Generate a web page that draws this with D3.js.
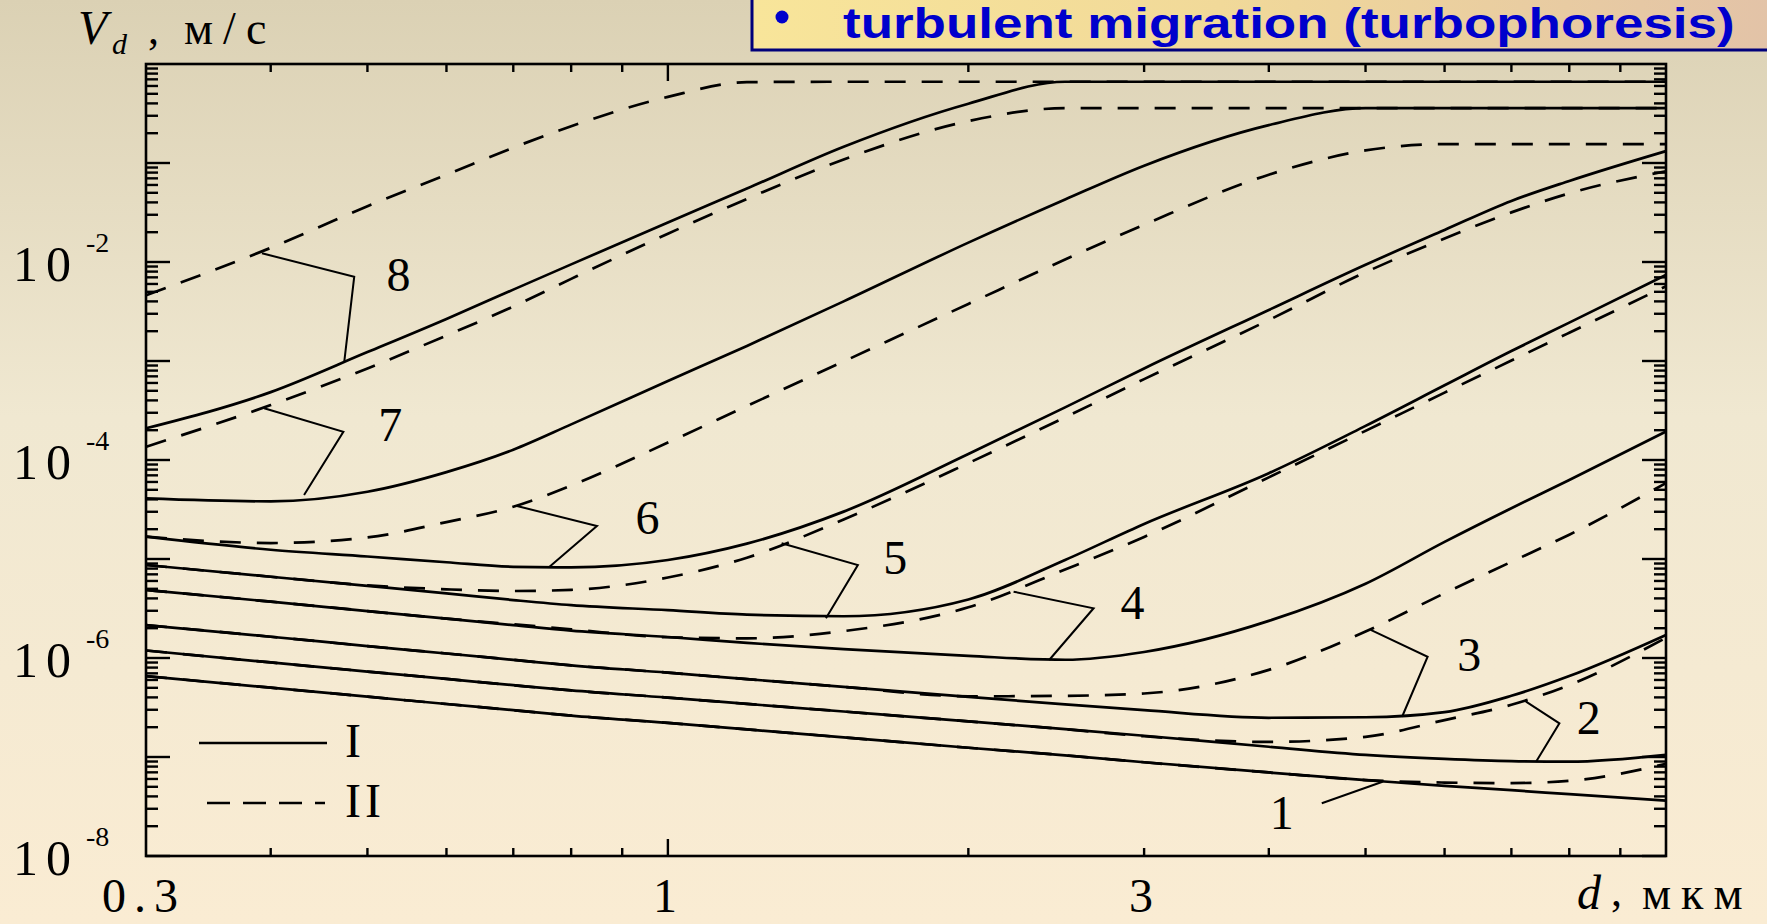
<!DOCTYPE html>
<html>
<head>
<meta charset="utf-8">
<script src="https://cdn.jsdelivr.net/npm/d3@7/dist/d3.min.js"></script>
<style>
  html, body { margin: 0; padding: 0; overflow: hidden; background: #efe6cf; }
  svg { display: block; }
</style>
</head>
<body>
<svg id="chart" width="1767" height="924"></svg>
<script>
// Particle diameter grid, μm
const diameters = [0.3, 0.4, 0.5, 0.6, 0.7, 0.8, 1, 1.2, 1.5, 2, 2.5, 3, 4, 5, 6, 7, 8, 10];

// Deposition velocity V_d, m/s — model I (solid)
const vI1 = [6.57e-7, 5.01e-7, 4.07e-7, 3.43e-7, 2.97e-7, 2.62e-7, 2.21e-7, 1.90e-7, 1.58e-7, 1.24e-7, 1.04e-7, 8.85e-8, 6.98e-8, 5.85e-8, 5.10e-8, 4.62e-8, 4.21e-8, 3.62e-8];
const vI2 = [1.19e-6, 9.02e-7, 7.30e-7, 6.15e-7, 5.31e-7, 4.70e-7, 3.98e-7, 3.44e-7, 2.88e-7, 2.29e-7, 1.91e-7, 1.64e-7, 1.27e-7, 1.05e-7, 9.57e-8, 9.08e-8, 8.96e-8, 1.05e-7];
const vI3 = [2.15e-6, 1.64e-6, 1.32e-6, 1.11e-6, 9.58e-7, 8.43e-7, 7.11e-7, 6.12e-7, 5.11e-7, 4.05e-7, 3.40e-7, 2.97e-7, 2.49e-7, 2.52e-7, 2.84e-7, 4.15e-7, 6.57e-7, 1.71e-6];
const vI4 = [4.86e-6, 3.71e-6, 2.98e-6, 2.50e-6, 2.15e-6, 1.89e-6, 1.63e-6, 1.42e-6, 1.23e-6, 1.05e-6, 9.6e-7, 1.15e-6, 2.37e-6, 5.63e-6, 1.49e-5, 3.26e-5, 6.28e-5, 1.94e-4];
const vI5 = [8.7e-6, 6.62e-6, 5.35e-6, 4.49e-6, 3.85e-6, 3.42e-6, 3.04e-6, 2.74e-6, 2.64e-6, 3.90e-6, 9.77e-6, 2.26e-5, 7.35e-5, 2.21e-4, 5.68e-4, 1.26e-3, 2.44e-3, 7.40e-3];
const vI6 = [1.68e-5, 1.24e-5, 1.06e-5, 9.27e-6, 8.34e-6, 8.24e-6, 9.77e-6, 1.43e-5, 3.01e-5, 1.15e-4, 3.40e-4, 8.41e-4, 3.28e-3, 9.37e-3, 0.0211, 0.0414, 0.0659, 0.132];
const vI7 = [4.10e-5, 3.82e-5, 4.78e-5, 7.55e-5, 1.27e-4, 2.29e-4, 6.28e-4, 1.42e-3, 4.0e-3, 0.0157, 0.0428, 0.094, 0.2415, 0.358, 0.358, 0.358, 0.358, 0.358];
const vI8 = [2.09e-4, 4.85e-4, 1.23e-3, 2.66e-3, 5.26e-3, 9.46e-3, 0.0251, 0.0552, 0.146, 0.397, 0.662, 0.662, 0.662, 0.662, 0.662, 0.662, 0.662, 0.662];

// Deposition velocity V_d, m/s — model II (dashed)
const vII1 = [6.57e-7, 5.01e-7, 4.07e-7, 3.43e-7, 2.97e-7, 2.62e-7, 2.21e-7, 1.90e-7, 1.58e-7, 1.24e-7, 1.04e-7, 8.85e-8, 6.98e-8, 5.85e-8, 5.52e-8, 5.45e-8, 5.74e-8, 8.51e-8];
const vII2 = [1.19e-6, 9.02e-7, 7.30e-7, 6.15e-7, 5.31e-7, 4.70e-7, 3.98e-7, 3.44e-7, 2.88e-7, 2.29e-7, 1.91e-7, 1.62e-7, 1.42e-7, 1.60e-7, 2.36e-7, 3.37e-7, 5.33e-7, 1.60e-6];
const vII3 = [2.15e-6, 1.64e-6, 1.32e-6, 1.11e-6, 9.58e-7, 8.43e-7, 7.11e-7, 6.12e-7, 5.11e-7, 4.10e-7, 4.15e-7, 4.38e-7, 7.59e-7, 1.85e-6, 4.51e-6, 9.37e-6, 1.76e-5, 5.85e-5];
const vII4 = [4.86e-6, 3.71e-6, 2.98e-6, 2.50e-6, 2.19e-6, 1.95e-6, 1.62e-6, 1.58e-6, 1.87e-6, 3.25e-6, 7.83e-6, 1.67e-5, 6.68e-5, 1.97e-4, 4.79e-4, 1.01e-3, 1.93e-3, 5.70e-3];
const vII5 = [8.7e-6, 6.62e-6, 5.42e-6, 4.94e-6, 4.75e-6, 4.88e-6, 6.50e-6, 1.03e-5, 2.51e-5, 9.30e-5, 2.70e-4, 6.56e-4, 2.59e-3, 7.88e-3, 0.0173, 0.0317, 0.0494, 0.0825];
const vII6 = [1.68e-5, 1.45e-5, 1.65e-5, 2.36e-5, 3.37e-5, 5.51e-5, 1.50e-4, 3.51e-4, 9.9e-4, 3.77e-3, 0.0106, 0.0238, 0.0762, 0.134, 0.155, 0.155, 0.155, 0.155];
const vII7 = [1.36e-4, 3.59e-4, 8.41e-4, 1.81e-3, 3.55e-3, 6.75e-3, 0.0193, 0.0434, 0.1086, 0.265, 0.358, 0.358, 0.358, 0.358, 0.358, 0.358, 0.358, 0.358];
const vII8 = [4.62e-3, 0.0139, 0.0366, 0.0762, 0.143, 0.235, 0.465, 0.655, 0.662, 0.662, 0.662, 0.662, 0.662, 0.662, 0.662, 0.662, 0.662, 0.662];

// Curve numbers with their label positions and leader lines, as [d, V]
const curveNames = ["1", "2", "3", "4", "5", "6", "7", "8"];
const labelAt = [[4.12, 2.70e-8], [8.37, 2.46e-7], [6.35, 1.07e-6], [2.92, 3.57e-6], [1.69, 1.02e-5], [0.954, 2.58e-5], [0.527, 2.26e-4], [0.537, 7.39e-3]];
const leaders = [
  [[4.52, 3.41e-8], [5.20, 5.63e-8]],
  [[7.24, 3.62e-7], [7.82, 2.19e-7], [7.41, 8.97e-8]],
  [[5.06, 1.92e-6], [5.77, 1.03e-6], [5.44, 2.55e-7]],
  [[2.22, 4.68e-6], [2.67, 3.18e-6], [2.41, 9.55e-7]],
  [[1.30, 1.44e-5], [1.55, 8.7e-6], [1.44, 2.52e-6]],
  [[0.706, 3.43e-5], [0.849, 2.15e-5], [0.761, 8.36e-6]],
  [[0.394, 3.33e-4], [0.473, 1.93e-4], [0.432, 4.43e-5]],
  [[0.392, 1.225e-2], [0.485, 7.11e-3], [0.474, 9.84e-4]]
];

// Axis ticks and labels
const xTickValues = [0.4, 0.5, 0.6, 0.7, 0.8, 0.9, 1, 2, 3, 4, 5, 6, 7, 8, 9];
const xMajorTicks = [1];
const xLabelValues = [0.3, 1, 3];
const xLabelTexts = ["0.3", "1", "3"];
const yDecades = [-8, -7, -6, -5, -4, -3, -2, -1];
const yLabelExponents = [-8, -6, -4, -2];
const legendNames = ["I", "II"];
const titleText = "turbulent migration (turbophoresis)";

// ---------------------------------------------------------------
const W = 1767, H = 924;
const svg = d3.select("#chart");
const defs = svg.append("defs");
const serif = "'Liberation Serif', 'Times New Roman', Times, serif";
const sans = "'Liberation Sans', Arial, Helvetica, sans-serif";

// page background
const bg = defs.append("linearGradient").attr("id", "bg")
  .attr("x1", 0).attr("y1", 0).attr("x2", 0).attr("y2", 1);
bg.selectAll("stop").data([[0, "#dbd1b4"], [0.45, "#f0e8d1"], [1, "#faecd3"]])
  .join("stop").attr("offset", d => d[0]).attr("stop-color", d => d[1]);
svg.append("rect").attr("width", W).attr("height", H).attr("fill", "url(#bg)");

// scales
const plot = { left: 146, right: 1666, top: 64, bottom: 856 };
const x = d3.scaleLog().domain([0.3, 10]).range([plot.left, plot.right]);
const y = d3.scaleLog().domain([1e-8, 1]).range([plot.bottom, plot.top]);

// curves
const seriesI = [vI1, vI2, vI3, vI4, vI5, vI6, vI7, vI8];
const seriesII = [vII1, vII2, vII3, vII4, vII5, vII6, vII7, vII8];
const line = d3.line()
  .x((d, i) => x(diameters[i]))
  .y(d => y(d))
  .curve(d3.curveMonotoneX);

const gCurves = svg.append("g").attr("fill", "none").attr("stroke", "#000")
  .attr("stroke-width", 2.7).attr("stroke-linejoin", "round");
gCurves.selectAll("path.m1").data(seriesI).join("path")
  .attr("class", "m1").attr("d", line);
gCurves.selectAll("path.m2").data(seriesII).join("path")
  .attr("class", "m2").attr("d", line).attr("stroke-dasharray", "21,16");

// leader lines and curve numbers
const pt = d3.line().x(d => x(d[0])).y(d => y(d[1]));
svg.append("g").attr("fill", "none").attr("stroke", "#000").attr("stroke-width", 2)
  .selectAll("path").data(leaders).join("path").attr("d", pt);
svg.append("g").attr("font-family", serif).attr("font-size", 48).attr("text-anchor", "middle")
  .selectAll("text").data(curveNames).join("text")
  .attr("x", (d, i) => x(labelAt[i][0]))
  .attr("y", (d, i) => y(labelAt[i][1]) + 16)
  .text(d => d);

// frame
svg.append("rect")
  .attr("x", plot.left).attr("y", plot.top)
  .attr("width", plot.right - plot.left).attr("height", plot.bottom - plot.top)
  .attr("fill", "none").attr("stroke", "#000").attr("stroke-width", 2.6);

// y ticks (left and right, pointing inwards)
const yTicks = [];
yDecades.forEach(e => {
  for (let k = 1; k <= 9; k++) yTicks.push({ v: k * Math.pow(10, e), major: k === 1 });
});
const gTicks = svg.append("g").attr("stroke", "#000").attr("stroke-width", 2.4);
gTicks.selectAll("line.yl").data(yTicks).join("line").attr("class", "yl")
  .attr("x1", plot.left).attr("x2", d => plot.left + (d.major ? 24 : 12))
  .attr("y1", d => y(d.v)).attr("y2", d => y(d.v));
gTicks.selectAll("line.yr").data(yTicks).join("line").attr("class", "yr")
  .attr("x1", plot.right).attr("x2", d => plot.right - (d.major ? 24 : 12))
  .attr("y1", d => y(d.v)).attr("y2", d => y(d.v));
// x ticks (bottom and top, pointing inwards)
gTicks.selectAll("line.xb").data(xTickValues).join("line").attr("class", "xb")
  .attr("x1", d => x(d)).attr("x2", d => x(d))
  .attr("y1", plot.bottom).attr("y2", d => plot.bottom - (xMajorTicks.includes(d) ? 17 : 8));
gTicks.selectAll("line.xt").data(xTickValues).join("line").attr("class", "xt")
  .attr("x1", d => x(d)).attr("x2", d => x(d))
  .attr("y1", plot.top).attr("y2", d => plot.top + (xMajorTicks.includes(d) ? 17 : 8));

// y tick labels: 10^n
const gYL = svg.append("g").attr("font-family", serif).attr("fill", "#000");
gYL.selectAll("text.base").data(yLabelExponents).join("text").attr("class", "base")
  .attr("x", plot.left - 133).attr("y", d => y(Math.pow(10, d)) + 19)
  .attr("font-size", 50).attr("letter-spacing", 8).text("10");
gYL.selectAll("text.exp").data(yLabelExponents).join("text").attr("class", "exp")
  .attr("x", plot.left - 60).attr("y", d => y(Math.pow(10, d)) - 10)
  .attr("font-size", 28).text(d => String(d));

// x tick labels
svg.append("g").attr("font-family", serif).attr("font-size", 48).attr("text-anchor", "middle")
  .selectAll("text").data(xLabelValues).join("text")
  .attr("x", (d, i) => x(d) - (i === 0 ? 2 : 3))
  .attr("y", 912)
  .attr("letter-spacing", (d, i) => i === 0 ? 8 : 0)
  .text((d, i) => xLabelTexts[i]);

// axis titles
const gAx = svg.append("g").attr("font-family", serif).attr("fill", "#000");
gAx.append("text").attr("x", 78).attr("y", 44).attr("font-size", 48).attr("font-style", "italic").text("V");
gAx.append("text").attr("x", 112).attr("y", 54).attr("font-size", 30).attr("font-style", "italic").text("d");
gAx.append("text").attr("x", 148).attr("y", 44).attr("font-size", 44).text(",");
gAx.append("text").attr("x", 184).attr("y", 44).attr("font-size", 46).attr("letter-spacing", 10).text("м/с");
gAx.append("text").attr("x", 1577).attr("y", 909).attr("font-size", 48).attr("font-style", "italic").text("d");
gAx.append("text").attr("x", 1611).attr("y", 906).attr("font-size", 44).text(",");
gAx.append("text").attr("x", 1642).attr("y", 909).attr("font-size", 46).attr("letter-spacing", 10).text("мкм");

// legend
const gLeg = svg.append("g");
const legRows = [{ y: 743, x1: 199, x2: 327, dash: null }, { y: 803, x1: 207, x2: 325, dash: "23,13" }];
gLeg.selectAll("line").data(legRows).join("line")
  .attr("x1", d => d.x1).attr("x2", d => d.x2).attr("y1", d => d.y).attr("y2", d => d.y)
  .attr("stroke", "#000").attr("stroke-width", 2.7)
  .attr("stroke-dasharray", d => d.dash);
gLeg.selectAll("text").data(legendNames).join("text")
  .attr("x", 345).attr("y", (d, i) => legRows[i].y + 14)
  .attr("font-family", serif).attr("font-size", 48).attr("letter-spacing", 4)
  .text(d => d);

// title banner
const tg = defs.append("linearGradient").attr("id", "banner")
  .attr("x1", 0).attr("y1", 0).attr("x2", 1).attr("y2", 0);
tg.selectAll("stop").data([[0, "#f8e59a"], [0.45, "#f1d999"], [1, "#e2c2a8"]])
  .join("stop").attr("offset", d => d[0]).attr("stop-color", d => d[1]);
svg.append("rect").attr("x", 752).attr("y", -8).attr("width", 1040).attr("height", 58)
  .attr("fill", "url(#banner)").attr("stroke", "#00007a").attr("stroke-width", 3);
svg.append("circle").attr("cx", 782).attr("cy", 17).attr("r", 6.5).attr("fill", "#0000cc");
const title = svg.append("text").attr("x", 0).attr("y", 0)
  .attr("font-family", sans).attr("font-size", 42).attr("font-weight", "bold")
  .attr("fill", "#0000cc").text(titleText);
const natural = title.node().getComputedTextLength();
title.attr("transform", `translate(843,38) scale(${892 / natural},1)`);
</script>
</body>
</html>
